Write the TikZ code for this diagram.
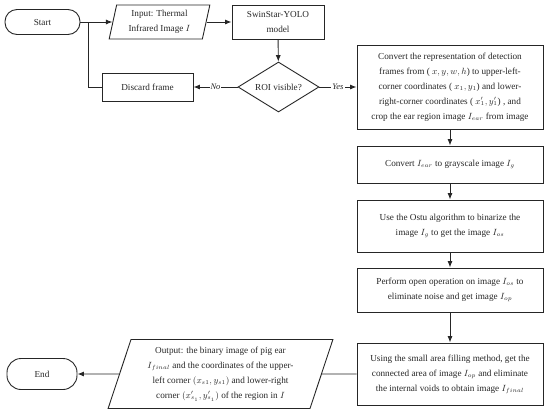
\documentclass[tikz,border=0pt]{standalone}
\usepackage{fontspec}
\setmainfont{Liberation Serif}
\usetikzlibrary{shapes.geometric,arrows.meta}
\begin{document}
\begin{tikzpicture}[x=1pt,y=-1pt,
  every node/.style={font=\fontsize{9.2}{15}\selectfont, text=black!85, align=center, inner sep=0pt},
  box/.style={draw=black!85, line width=0.9pt, rectangle},
  term/.style={draw=black!85, line width=0.9pt, rectangle, rounded corners=12pt, minimum width=75pt, minimum height=25pt},
  io/.style={draw=black!85, line width=0.9pt, trapezium, trapezium stretches=true},
  decide/.style={draw=black!85, line width=0.9pt, diamond, minimum width=81pt, minimum height=50pt, aspect=1.62},
  conn/.style={draw=black!85, line width=0.9pt},
  arr/.style={conn, -{Latex[length=6.5pt,width=5pt]}},
  lbl/.style={fill=white, inner sep=1pt, font=\fontsize{8.5}{10}\selectfont\itshape}
]
\useasboundingbox (0,0) rectangle (550,413);
% nodes
\node[term] (start) at (42.5,22) {Start};
\node[io, trapezium left angle=77, trapezium right angle=103, minimum width=101pt, minimum height=34pt] (input) at (159.5,22) {Input: Thermal\\Infrared Image $I$};
\node[box, minimum width=92pt, minimum height=34pt] (swin) at (278,22) {SwinStar-YOLO\\model};
\node[decide] (roi) at (278.5,87) {ROI visible?};
\node[box, minimum width=91pt, minimum height=28pt] (discard) at (147.5,87) {Discard frame};
\coordinate (branch) at (88,22);
\node[box, minimum width=186pt, minimum height=84pt] (b1) at (450,87) {Convert the representation of detection\\frames from ( $x, y, w, h$) to upper-left-\\corner coordinates ( $x_1, y_1$) and lower-\\right-corner coordinates ( $x_1', y_1'$) , and\\crop the ear region image $I_{ear}$ from image};
\node[box, minimum width=186pt, minimum height=37pt] (b2) at (450,164.5) {Convert $I_{ear}$ to grayscale image $I_g$};
\node[box, minimum width=186pt, minimum height=52pt] (b3) at (450,226) {Use the Ostu algorithm to binarize the\\image $I_g$ to get the image $I_{os}$};
\node[box, minimum width=186pt, minimum height=44pt] (b4) at (450,290) {Perform open operation on image $I_{os}$ to\\eliminate noise and get image $I_{op}$};
\node[box, minimum width=186pt, minimum height=62pt] (b5) at (450,374) {Using the small area filling method, get the\\connected area of image $I_{op}$ and eliminate\\the internal voids to obtain image $I_{final}$};
\node[io, trapezium left angle=71, trapezium right angle=109, minimum width=225pt, minimum height=69pt] (output) at (220.5,374) {Output: the binary image of pig ear\\$I_{final}$ and the coordinates of the upper-\\left corner $(x_{s1}, y_{s1})$ and lower-right\\corner $(x_{s_1}', y_{s_1}')$ of the region in $I$};
\node[term, minimum width=70pt, minimum height=31pt, rounded corners=14pt] (end) at (42,374) {End};
% connectors
\draw[arr] (start) -- (input);
\draw[arr] (input) -- (swin);
\draw[arr] (swin) -- (roi);
\draw[arr] (roi.west) -- node[lbl] {No} (discard.east);
\draw[conn] (discard.west) -| (branch);
\draw[arr] (roi.east) -- node[lbl] {Yes} (b1.west);
\draw[arr] (b1) -- (b2);
\draw[arr] (b2) -- (b3);
\draw[arr] (b3) -- (b4);
\draw[arr] (b4) -- (b5);
\draw[conn] (b5.west) -- (output.east);
\draw[arr] (output.west) -- (end.east);
\end{tikzpicture}
\end{document}
